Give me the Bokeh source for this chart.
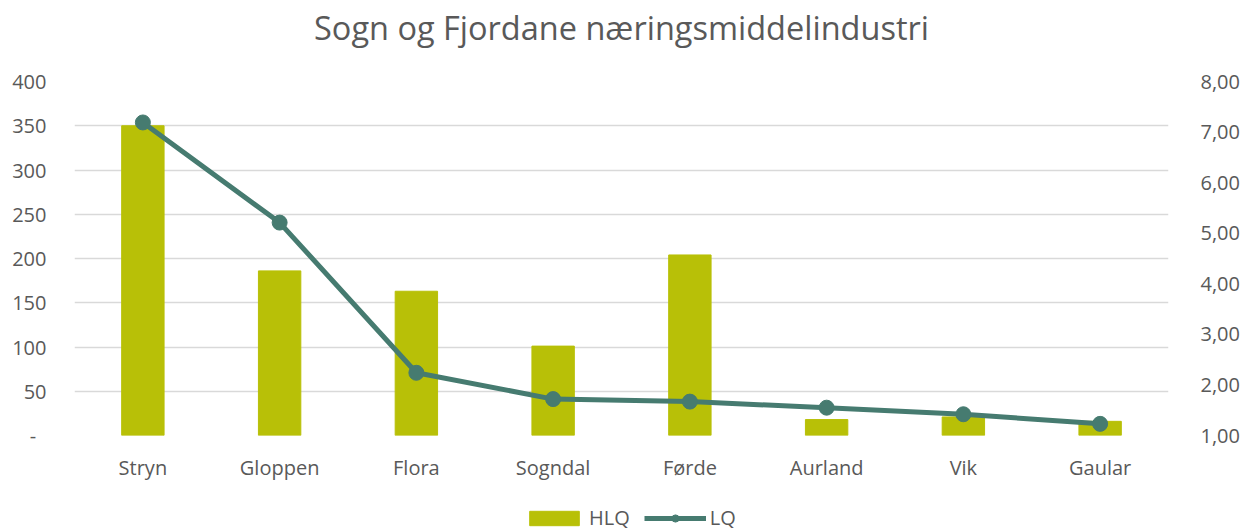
from bokeh.plotting import figure
from bokeh.layouts import column
from bokeh.models import (Range1d, LinearAxis, FixedTicker, Legend, LegendItem,
                          FactorRange, ColumnDataSource)
from bokeh.core.properties import value
from bokeh.embed import file_html
from bokeh.resources import INLINE

# Municipalities and their location quotients
categories = ["Stryn", "Gloppen", "Flora", "Sogndal", "Førde", "Aurland", "Vik", "Gaular"]
hlq = [350, 186, 163, 101, 204, 18, 21, 16]
lq = [7.19, 5.21, 2.24, 1.72, 1.67, 1.55, 1.42, 1.23]

left_ticks = [0, 50, 100, 150, 200, 250, 300, 350, 400]
left_labels = ["-\u00a0\u00a0", "50", "100", "150", "200", "250", "300", "350", "400"]
right_ticks = [1, 2, 3, 4, 5, 6, 7, 8]
right_labels = ["1,00", "2,00", "3,00", "4,00", "5,00", "6,00", "7,00", "8,00"]
title_text = "Sogn og Fjordane næringsmiddelindustri"

FONT = "Open Sans"
TEXT = "#595959"
BAR = "#B8C007"
LINE = "#467B70"
W = 1247

src = ColumnDataSource(dict(cat=categories, hlq=hlq, lq=lq))


def strip(height, x_range, y_range):
    f = figure(width=W, height=height, x_range=x_range, y_range=y_range,
               x_axis_type=None, y_axis_type=None, output_backend="svg",
               toolbar_location=None, min_border=0)
    f.outline_line_color = None
    f.grid.visible = False
    return f


# Header with the chart title
header = strip(66, Range1d(0, 1), Range1d(0, 1))
header.text(x=[0.5], y=[1 - 27 / 66], text=[title_text], text_align="center",
            text_baseline="middle", text_font=value(FONT), text_font_size="32.5px",
            text_color=TEXT)

# Main chart
p = figure(width=W, height=425, x_range=FactorRange(*categories),
           y_range=Range1d(0, 400), output_backend="svg", toolbar_location=None,
           min_border_left=74, min_border_right=79, min_border_top=15,
           min_border_bottom=56)
p.extra_y_ranges = {"lq": Range1d(1, 8)}
p.outline_line_color = None

p.vbar(x="cat", top="hlq", width=0.31, source=src, color=BAR)
p.line(x="cat", y="lq", source=src, y_range_name="lq", line_color=LINE, line_width=5)
p.scatter(x="cat", y="lq", source=src, y_range_name="lq", size=15,
          fill_color=LINE, line_color=LINE)

# Left axis
ya = p.yaxis[0]
ya.ticker = FixedTicker(ticks=left_ticks)
ya.major_label_overrides = {t: l for t, l in zip(left_ticks, left_labels)}
ya.axis_line_color = None
ya.major_tick_line_color = None
ya.minor_tick_line_color = None
ya.major_label_standoff = 22
ya.major_label_text_font = FONT
ya.major_label_text_font_size = "20px"
ya.major_label_text_color = TEXT

# Right axis
ra = LinearAxis(y_range_name="lq", ticker=FixedTicker(ticks=right_ticks))
ra.major_label_overrides = {t: l for t, l in zip(right_ticks, right_labels)}
ra.axis_line_color = None
ra.major_tick_line_color = None
ra.minor_tick_line_color = None
ra.major_label_standoff = 26
ra.major_label_text_font = FONT
ra.major_label_text_font_size = "20px"
ra.major_label_text_color = TEXT
p.add_layout(ra, "right")

# Category axis
xa = p.xaxis[0]
xa.axis_line_color = None
xa.major_tick_line_color = None
xa.major_label_standoff = 12
xa.major_label_text_font = FONT
xa.major_label_text_font_size = "20px"
xa.major_label_text_color = TEXT

p.xgrid.grid_line_color = None
p.ygrid.ticker = FixedTicker(ticks=left_ticks)
p.ygrid.grid_line_color = "#D9D9D9"
p.ygrid.grid_line_width = 1.5

# Legend strip under the chart: the same series drawn with the same styles,
# with a y window above every value so only the legend keys show
foot = strip(40, FactorRange(*categories), Range1d(1000, 1001))
k_bar = foot.vbar(x="cat", top="hlq", width=0.31, source=src, color=BAR)
k_line = foot.line(x="cat", y="lq", source=src, line_color=LINE, line_width=5)
k_dot = foot.scatter(x="cat", y="lq", source=src, size=15, fill_color=LINE,
                     line_color=LINE)
legend = Legend(items=[LegendItem(label="HLQ", renderers=[k_bar]),
                       LegendItem(label="LQ", renderers=[k_line, k_dot])],
                orientation="horizontal", location=(449, 0),
                glyph_width=62, glyph_height=18, label_standoff=4, spacing=14,
                border_line_color=None, background_fill_alpha=0,
                label_text_font=FONT, label_text_font_size="20px",
                label_text_color=TEXT, padding=0, margin=0)
foot.add_layout(legend, "center")

layout = column(header, p, foot, spacing=0)
open("out.html", "w").write(file_html(layout, INLINE))
